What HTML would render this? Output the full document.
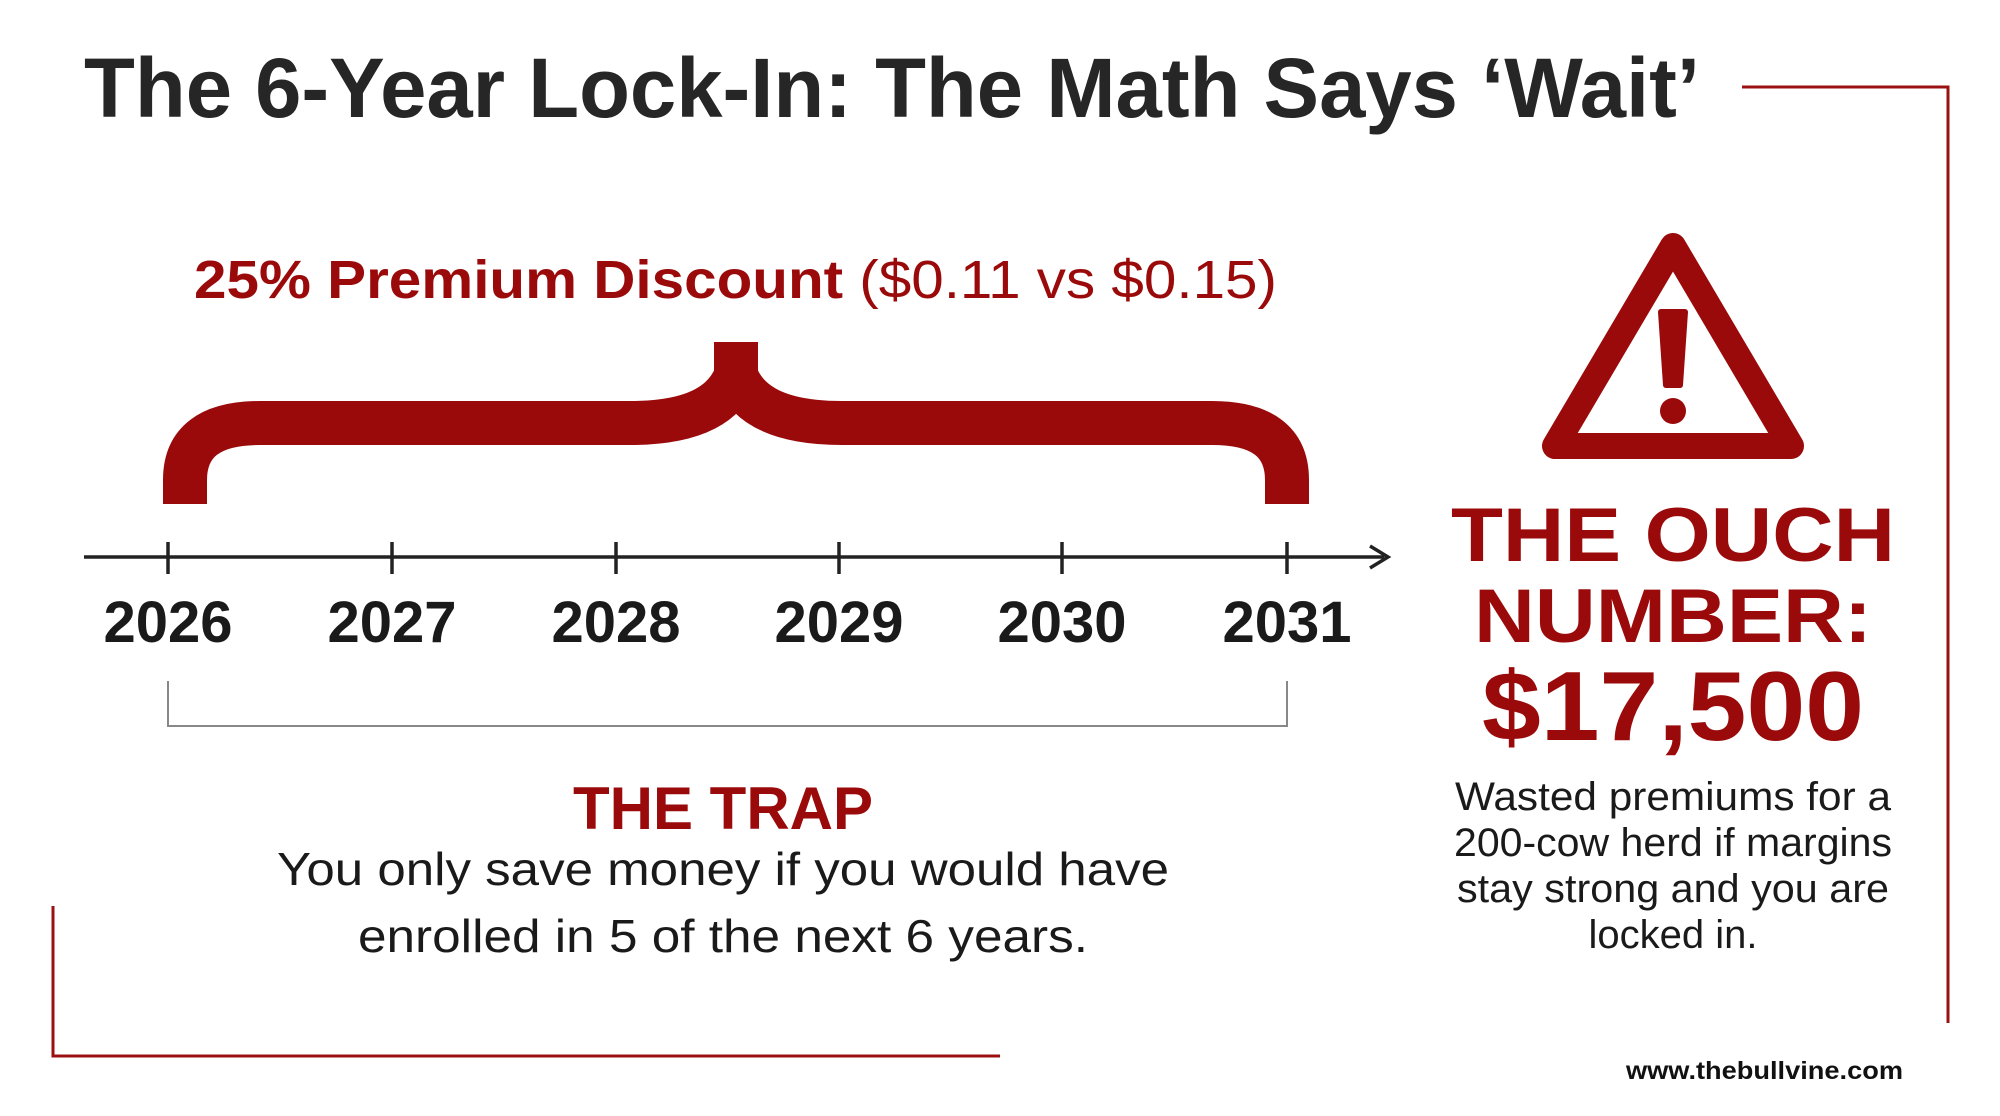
<!DOCTYPE html>
<html><head><meta charset="utf-8"><style>
html,body{margin:0;padding:0;background:#fff;}
svg{display:block;}
text{font-family:"Liberation Sans","DejaVu Sans",sans-serif;}
</style></head><body>
<svg width="2000" height="1116" viewBox="0 0 2000 1116" xmlns="http://www.w3.org/2000/svg">
<rect width="2000" height="1116" fill="#fff"/>
<!-- frame lines -->
<polyline points="1742,87 1948,87 1948,1023" fill="none" stroke="#9b1111" stroke-width="3"/>
<polyline points="53,906 53,1056 1000,1056" fill="none" stroke="#9b1111" stroke-width="3"/>
<!-- title -->
<text x="84" y="117" font-size="84" font-weight="bold" fill="#262626" textLength="1616" lengthAdjust="spacingAndGlyphs">The 6-Year Lock-In: The Math Says ‘Wait’</text>
<!-- subtitle -->
<text x="194" y="298" font-size="54" fill="#9b0a0a" textLength="1083" lengthAdjust="spacingAndGlyphs"><tspan font-weight="bold">25% Premium Discount</tspan> ($0.11 vs $0.15)</text>
<!-- brace -->
<path d="M185,504 L185,480 Q185,423 260,423 L630,423 Q718,423 736,375 Q754,423 842,423 L1212,423 Q1287,423 1287,480 L1287,504"
 fill="none" stroke="#9b0a0a" stroke-width="44" stroke-linejoin="bevel"/>
<rect x="714" y="342" width="44" height="40" fill="#9b0a0a"/>
<!-- axis -->
<line x1="84" y1="557" x2="1384" y2="557" stroke="#222" stroke-width="3.5"/>
<polyline points="1370,546 1388,557 1370,568" fill="none" stroke="#222" stroke-width="3.5"/>
<g stroke="#222" stroke-width="3.5">
<line x1="168" y1="542" x2="168" y2="574"/><line x1="392" y1="542" x2="392" y2="574"/>
<line x1="616" y1="542" x2="616" y2="574"/><line x1="839" y1="542" x2="839" y2="574"/>
<line x1="1062" y1="542" x2="1062" y2="574"/><line x1="1287" y1="542" x2="1287" y2="574"/>
</g>
<g font-size="58" font-weight="bold" fill="#1a1a1a" text-anchor="middle">
<text x="168" y="642">2026</text><text x="392" y="642">2027</text><text x="616" y="642">2028</text>
<text x="839" y="642">2029</text><text x="1062" y="642">2030</text><text x="1287" y="642">2031</text>
</g>
<!-- gray bracket -->
<polyline points="168,681 168,726 1287,726 1287,681" fill="none" stroke="#888" stroke-width="2"/>
<!-- trap -->
<text x="723" y="829" font-size="60" font-weight="bold" fill="#9b0a0a" text-anchor="middle">THE TRAP</text>
<text x="723" y="885" font-size="46" fill="#1a1a1a" text-anchor="middle" textLength="892" lengthAdjust="spacingAndGlyphs">You only save money if you would have</text>
<text x="723" y="952" font-size="46" fill="#1a1a1a" text-anchor="middle" textLength="730" lengthAdjust="spacingAndGlyphs">enrolled in 5 of the next 6 years.</text>
<!-- warning -->
<path d="M1673,246 L1555,446 L1791,446 Z" fill="none" stroke="#9b0a0a" stroke-width="26" stroke-linejoin="round"/>
<path d="M1661,312 L1685,312 L1680,385 L1666,385 Z" fill="#9b0a0a" stroke="#9b0a0a" stroke-width="6" stroke-linejoin="round"/>
<circle cx="1673" cy="411" r="13" fill="#9b0a0a"/>
<g font-weight="bold" fill="#9b0a0a" text-anchor="middle">
<text x="1673" y="561" font-size="76" textLength="444" lengthAdjust="spacingAndGlyphs">THE OUCH</text>
<text x="1673" y="642" font-size="76" textLength="398" lengthAdjust="spacingAndGlyphs">NUMBER:</text>
<text x="1673" y="740" font-size="98" textLength="382" lengthAdjust="spacingAndGlyphs">$17,500</text>
</g>
<g font-size="40" fill="#1a1a1a" text-anchor="middle">
<text x="1673" y="810" textLength="436" lengthAdjust="spacingAndGlyphs">Wasted premiums for a</text>
<text x="1673" y="856" textLength="438" lengthAdjust="spacingAndGlyphs">200-cow herd if margins</text>
<text x="1673" y="902" textLength="432" lengthAdjust="spacingAndGlyphs">stay strong and you are</text>
<text x="1673" y="948">locked in.</text>
</g>
<text x="1626" y="1079" font-size="25" font-weight="bold" fill="#111" textLength="277" lengthAdjust="spacingAndGlyphs">www.thebullvine.com</text>
</svg>
</body></html>
